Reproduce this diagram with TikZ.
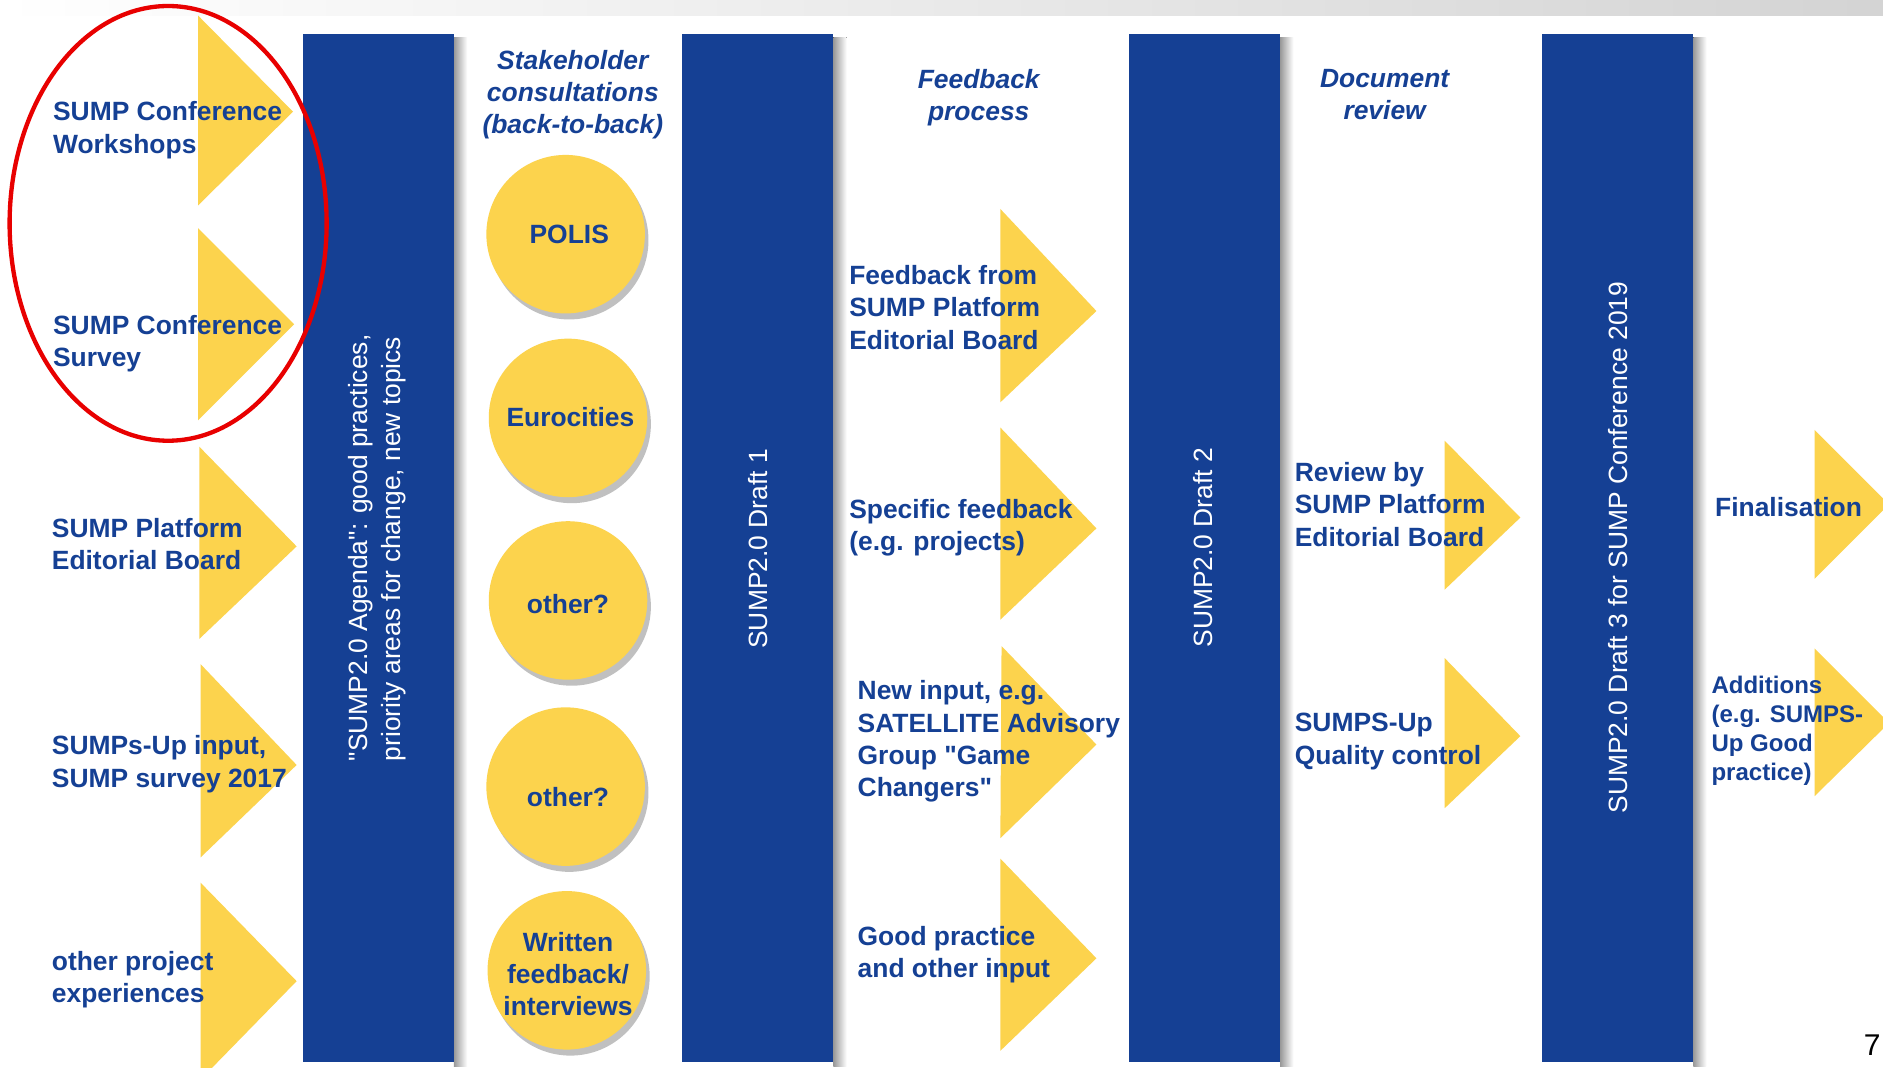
\documentclass[tikz,border=0pt]{standalone}
\usepackage{fontspec}
\setmainfont{Liberation Sans}[Ligatures=TeXOff]
\usetikzlibrary{shadows}
\definecolor{sblue}{RGB}{21,64,148}
\definecolor{syel}{RGB}{252,211,77}
\definecolor{sred}{RGB}{232,0,0}
\begin{document}
\begin{tikzpicture}[x=1pt,y=-1pt,
  bar/.style={fill=sblue, draw=none, inner sep=0pt, minimum width=126pt, minimum height=856pt},
  barshadow/.style={left color=black!40, right color=white},
  tri/.style={fill=syel},
  lbl/.style={font=\fontsize{22}{27}\selectfont\bfseries, text=sblue, align=left, inner sep=0pt, anchor=west},
  hdr/.style={font=\fontsize{22}{26.5}\selectfont\bfseries\itshape, text=sblue, align=center, inner sep=0pt},
  bubble/.style={circle, fill=syel, minimum size=132pt, inner sep=0pt,
    drop shadow={shadow xshift=3pt, shadow yshift=-5pt, opacity=.35, fill=black!70}},
  ctext/.style={font=\fontsize{22}{26.5}\selectfont\bfseries, text=sblue, align=center, inner sep=0pt},
  rtext/.style={font=\fontsize{22}{27}\selectfont, text=white, rotate=90, inner sep=0pt}
]
\useasboundingbox (0,0) rectangle (1568,889);
\clip (0,0) rectangle (1568,889);
\fill[white] (0,0) rectangle (1568,889);
% top band
\fill[left color=white, right color=black!17] (0,0) rectangle (1568,13);

% bar shadows
\fill[barshadow] (378,31) rectangle (389,888);
\fill[barshadow] (694,31) rectangle (705,888);
\fill[barshadow] (1066,31) rectangle (1077,888);
\fill[barshadow] (1410,31) rectangle (1421,888);

% bars
\node[bar] (b1) at (315,456) {};
\node[bar] (b2) at (631,456) {};
\node[bar] (b3) at (1003,456) {};
\node[bar] (b4) at (1347,456) {};

% left column triangles
\fill[tri] (165,13) -- (244,93) -- (165,171) -- cycle;
\fill[tri] (165,190) -- (245,270) -- (165,350) -- cycle;
\fill[tri] (166,372) -- (247,455) -- (166,532) -- cycle;
\fill[tri] (167,553) -- (247,637) -- (167,714) -- cycle;
\fill[tri] (167,735) -- (247,817) -- (167,899) -- cycle;
% feedback triangles
\fill[tri] (833,174) -- (913,259) -- (833,335) -- cycle;
\fill[tri] (833,356) -- (913,440) -- (833,516) -- cycle;
\fill[tri] (834,538) -- (913,620) -- (833,698) -- cycle;
\fill[tri] (833,715) -- (913,798) -- (833,875) -- cycle;
% review triangles
\fill[tri] (1203,367) -- (1266,431) -- (1203,491) -- cycle;
\fill[tri] (1203,548) -- (1266,613) -- (1203,673) -- cycle;
% final triangles
\fill[tri] (1511,358) -- (1573,420) -- (1511,482) -- cycle;
\fill[tri] (1511,540) -- (1573,602) -- (1511,663) -- cycle;

% bubbles
\node[bubble] (c1) at (471,195) {};
\node[bubble] (c2) at (473,348) {};
\node[bubble] (c3) at (473,500) {};
\node[bubble] (c4) at (471,655) {};
\node[bubble] (c5) at (472,808) {};
\node[ctext] (c1t) at (474,195) {POLIS};
\node[ctext] (c2t) at (475,347) {Eurocities};
\node[ctext] (c3t) at (473,503) {other?};
\node[ctext] (c4t) at (473,664) {other?};
\node[ctext] (c5t) at (473,811) {Written\\feedback/\\interviews};

% headers
\node[hdr] (h1) at (477,79) {Stakeholder\\consultations\\(back-to-back)};
\node[hdr] (h2) at (815,81.5) {Feedback\\process};
\node[hdr] (h3) at (1153,78.5) {Document\\review};

% left labels
\node[lbl] (l1) at (44,108.5) {SUMP Conference\\Workshops};
\node[lbl] (l2) at (44,286) {SUMP Conference\\Survey};
\node[lbl] (l3) at (43,453) {SUMP Platform\\Editorial Board};
\node[lbl] (l4) at (43,636.5) {SUMPs-Up input,\\SUMP survey 2017};
\node[lbl] (l5) at (43,816) {other project\\experiences};

% feedback labels
\node[lbl] (f1) at (707,256) {Feedback from\\SUMP Platform\\Editorial Board};
\node[lbl] (f2) at (707,439.5) {Specific feedback\\(e.g. projects)};
\node[lbl] (f3) at (714,617.5) {New input, e.g.\\SATELLITE Advisory\\Group "Game\\Changers"};
\node[lbl] (f4) at (714,795) {Good practice\\and other input};

% review labels
\node[lbl] (r1) at (1078,420) {Review by\\SUMP Platform\\Editorial Board};
\node[lbl] (r2) at (1078,617.5) {SUMPS-Up\\Quality control};

% final labels
\node[lbl] (e1) at (1428,422) {Finalisation};
\node[lbl, font=\fontsize{20}{24.2}\selectfont\bfseries] (e2) at (1425,608.5) {Additions\\(e.g. SUMPS-\\Up Good\\practice)};

% bar texts
\node[rtext, anchor=west, align=left] (b1t) at (314,634) {"SUMP2.0 Agenda": good practices,\\priority areas for change, new topics};
\node[rtext] (b2t) at (631,457) {SUMP2.0 Draft 1};
\node[rtext] (b3t) at (1002,456) {SUMP2.0 Draft 2};
\node[rtext] (b4t) at (1347,456) {SUMP2.0 Draft 3 for SUMP Conference 2019};

% page number
\node[font=\fontsize{25}{25}\selectfont, inner sep=0pt] (pg) at (1559,870) {7};

% red highlight
\draw[sred, line width=3.6pt] (140,186) ellipse [x radius=132pt, y radius=181pt];
\end{tikzpicture}
\end{document}
